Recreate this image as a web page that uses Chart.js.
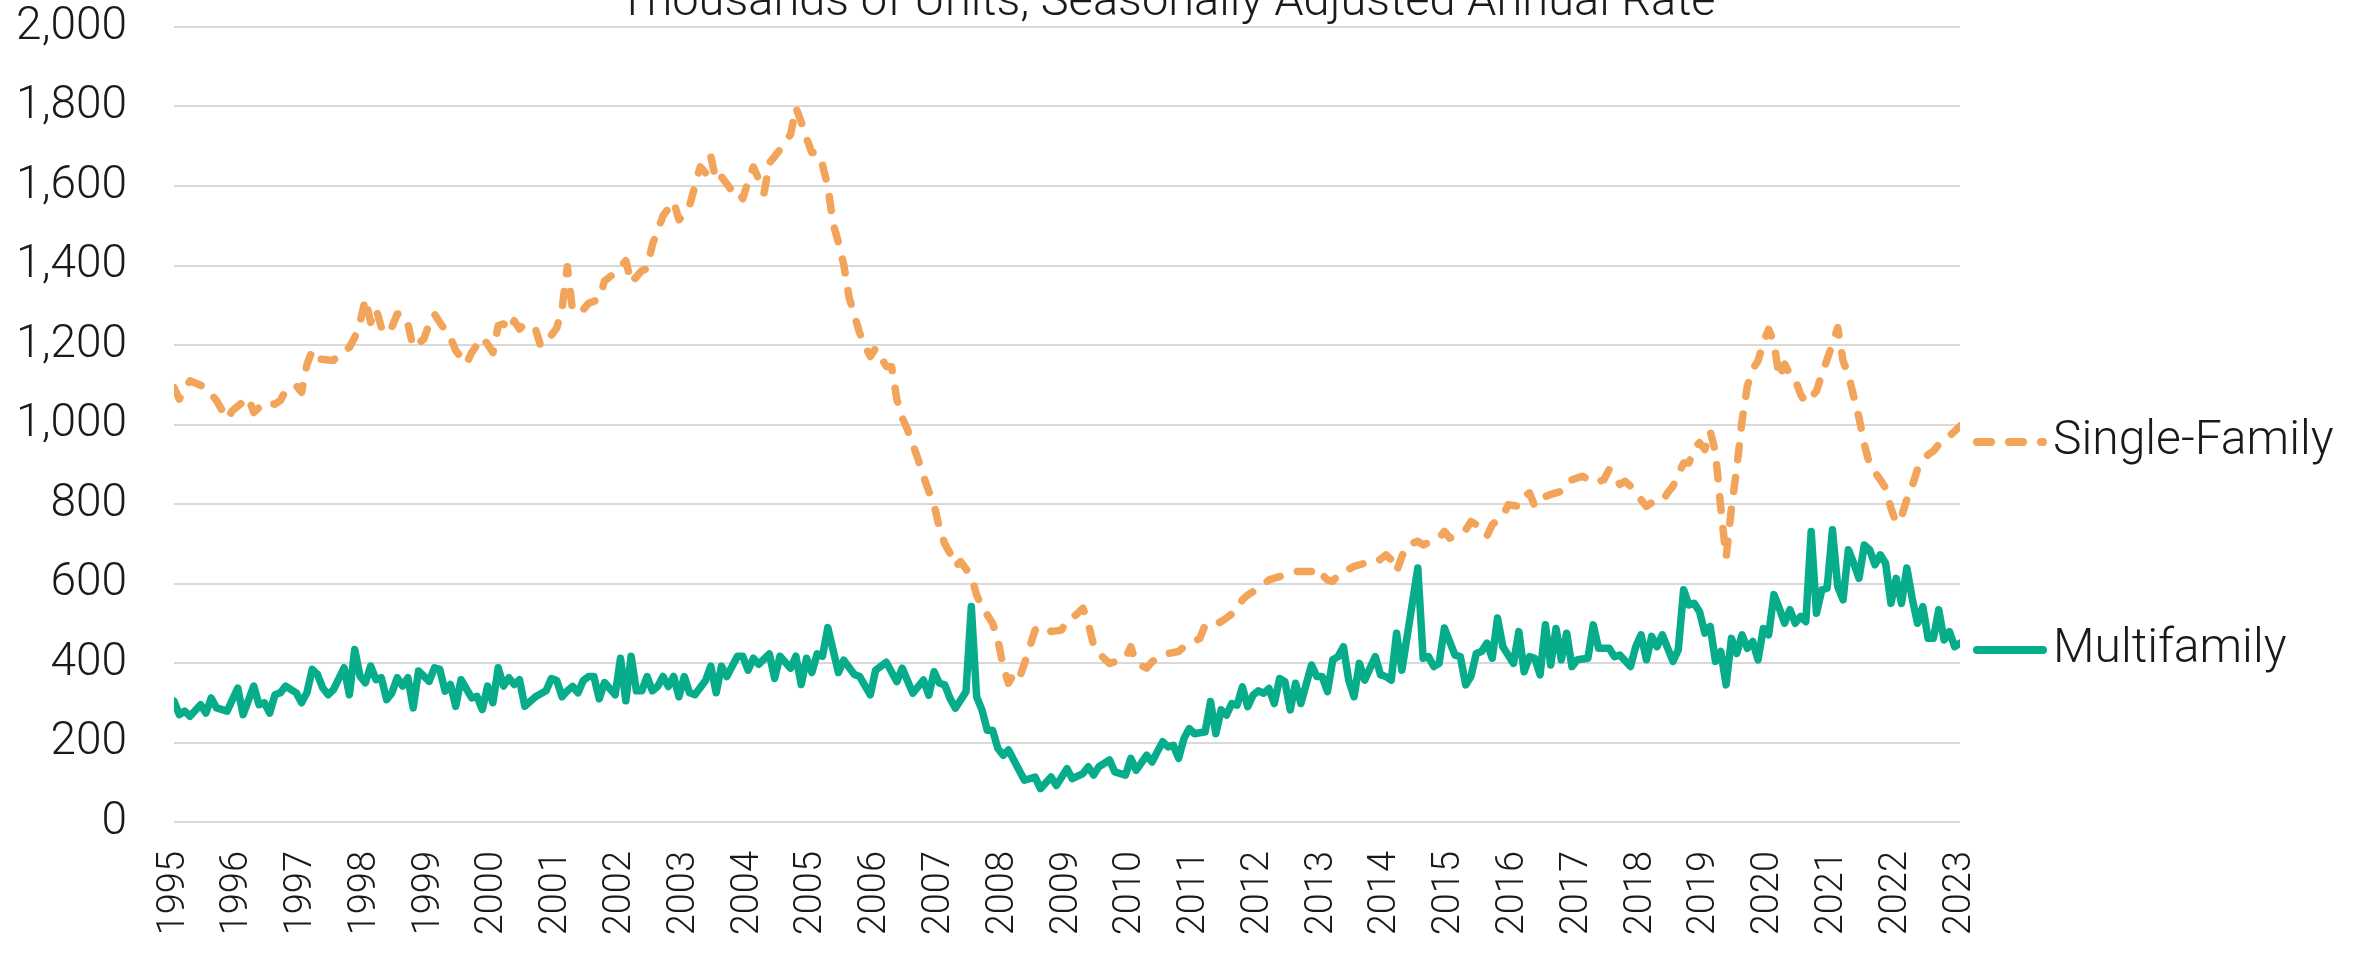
<!DOCTYPE html>
<html lang="en">
<head>
  <meta charset="UTF-8" />
  <title>Housing Starts</title>
  <script src="https://cdn.jsdelivr.net/npm/chart.js"></script>
  <style>
    html, body { margin: 0; padding: 0; background: #fff; }
    .wrap { width: 2361px; height: 961px; position: relative; }
  </style>
</head>
<body>
  <div class="wrap"><canvas id="chart"></canvas></div>

  <script>
    // axis ticks and labels
    const startYear = 1995;
    const yearTicks = [1995, 1996, 1997, 1998, 1999, 2000, 2001, 2002, 2003, 2004, 2005, 2006, 2007, 2008,
                       2009, 2010, 2011, 2012, 2013, 2014, 2015, 2016, 2017, 2018, 2019, 2020, 2021, 2022, 2023];
    const valueTicks = [0, 200, 400, 600, 800, 1000, 1200, 1400, 1600, 1800, 2000];
    const seriesNames = ["Single-Family", "Multifamily"];
    const titleText = "Thousands of Units, Seasonally Adjusted Annual Rate";

    // single-family: months since Jan 1995, thousands of units
    const sfMonths = [
      0, 1, 3, 6, 8, 10, 11, 14, 15, 17,
      19, 20, 21, 23, 24, 25, 26, 27, 30, 31,
      33, 34, 35, 36, 37, 38, 39, 40, 41, 42,
      43, 44, 45, 47, 48, 49, 50, 52, 53, 55,
      56, 58, 59, 60, 61, 62, 63, 64, 65, 66,
      68, 69, 70, 72, 73, 74, 75, 77, 78, 80,
      81, 83, 85, 86, 88, 89, 90, 91, 92, 94,
      95, 96, 97, 98, 99, 100, 101, 102, 103, 105,
      106, 107, 108, 109, 110, 111, 112, 113, 115, 116,
      117, 118, 119, 120, 121, 122, 123, 124, 125, 126,
      127, 129, 130, 131, 132, 134, 135, 136, 137, 138,
      140, 141, 142, 143, 144, 145, 146, 147, 148, 150,
      151, 152, 153, 154, 155, 156, 157, 158, 159, 160,
      161, 162, 164, 165, 167, 168, 169, 171, 172, 173,
      174, 176, 177, 179, 180, 181, 183, 184, 185, 187,
      189, 190, 193, 194, 196, 198, 200, 201, 202, 204,
      206, 209, 210, 211, 214, 215, 216, 217, 218, 219,
      222, 224, 226, 228, 229, 230, 231, 232, 234, 235,
      238, 239, 240, 243, 244, 245, 247, 248, 250, 251,
      253, 254, 255, 256, 258, 259, 261, 262, 263, 265,
      267, 269, 270, 271, 272, 273, 274, 276, 277, 278,
      280, 281, 282, 283, 284, 285, 286, 287, 288, 289,
      290, 291, 292, 293, 294, 295, 296, 297, 298, 299,
      300, 301, 302, 303, 304, 305, 306, 307, 308, 309,
      310, 312, 313, 314, 315, 316, 317, 318, 319, 321,
      322, 323, 324, 325, 326, 327, 328, 330, 331, 332,
      334, 335, 336
    ];
    const sfValues = [
      1093, 1064, 1110, 1093, 1060, 1014, 1035, 1068, 1030, 1055,
      1051, 1060, 1085, 1098, 1081, 1150, 1186, 1165, 1161, 1177,
      1194, 1219, 1257, 1316, 1257, 1291, 1245, 1228, 1245, 1278,
      1278, 1253, 1194, 1215, 1253, 1278, 1257, 1219, 1186, 1152,
      1181, 1219, 1202, 1181, 1249, 1253, 1236, 1261, 1240, 1253,
      1240, 1197, 1207, 1243, 1290, 1397, 1284, 1289, 1305, 1315,
      1361, 1382, 1412, 1356, 1387, 1392, 1453, 1489, 1525, 1561,
      1515, 1530, 1551, 1600, 1648, 1633, 1674, 1612, 1623, 1587,
      1592, 1568, 1612, 1648, 1617, 1582, 1658, 1674, 1710, 1730,
      1797, 1761, 1720, 1684, 1684, 1653, 1600, 1505, 1458, 1402,
      1320, 1230, 1197, 1171, 1192, 1146, 1145, 1063, 1017, 987,
      912, 870, 832, 798, 740, 700, 676, 643, 655, 618,
      571, 542, 521, 500, 458, 391, 349, 374, 361, 399,
      441, 483, 492, 479, 483, 508, 513, 538, 500, 445,
      424, 399, 403, 412, 441, 399, 387, 403, 412, 424,
      429, 441, 462, 496, 496, 513, 534, 559, 571, 588,
      609, 622, 626, 630, 630, 639, 622, 609, 605, 622,
      643, 651, 651, 672, 660, 630, 668, 697, 706, 697,
      714, 731, 714, 735, 756, 748, 719, 748, 769, 798,
      794, 819, 828, 794, 819, 824, 832, 853, 861, 870,
      853, 861, 887, 874, 849, 857, 845, 811, 794, 803,
      807, 828, 845, 874, 903, 903, 941, 954, 937, 983,
      930, 790, 665, 790, 890, 1010, 1097, 1139, 1160, 1206,
      1239, 1206, 1118, 1152, 1126, 1113, 1076, 1055, 1068, 1084,
      1126, 1202, 1244, 1160, 1126, 1071, 1017, 950, 899, 861,
      840, 790, 752, 769, 811, 845, 887, 924, 933, 950,
      971, 983, 996
    ];

    // multifamily
    const mfMonths = [
      0, 1, 2, 3, 5, 6, 7, 8, 10, 12,
      13, 15, 16, 17, 18, 19, 20, 21, 23, 24,
      25, 26, 27, 28, 29, 30, 32, 33, 34, 35,
      36, 37, 38, 39, 40, 41, 42, 43, 44, 45,
      46, 48, 49, 50, 51, 52, 53, 54, 56, 57,
      58, 59, 60, 61, 62, 63, 64, 65, 66, 68,
      70, 71, 72, 73, 74, 75, 76, 77, 78, 79,
      80, 81, 83, 84, 85, 86, 87, 88, 89, 90,
      91, 92, 93, 94, 95, 96, 97, 98, 100, 101,
      102, 103, 104, 106, 107, 108, 109, 110, 112, 113,
      114, 116, 117, 118, 119, 120, 121, 122, 123, 125,
      126, 128, 129, 131, 132, 134, 136, 137, 139, 141,
      142, 143, 144, 145, 146, 147, 148, 149, 150, 151,
      152, 153, 154, 155, 156, 157, 159, 160, 162, 163,
      165, 166, 168, 169, 171, 172, 173, 174, 176, 177,
      179, 180, 181, 183, 184, 185, 186, 187, 188, 189,
      190, 191, 192, 194, 195, 196, 197, 198, 199, 200,
      201, 202, 203, 204, 205, 206, 207, 208, 209, 210,
      211, 212, 214, 215, 216, 217, 218, 219, 220, 221,
      222, 223, 224, 226, 227, 228, 229, 230, 231, 234,
      235, 236, 237, 238, 239, 240, 241, 242, 243, 244,
      245, 246, 247, 248, 249, 250, 252, 253, 254, 255,
      256, 257, 258, 259, 260, 261, 262, 263, 264, 266,
      267, 268, 270, 271, 272, 274, 275, 276, 277, 278,
      279, 280, 282, 283, 284, 285, 286, 287, 288, 289,
      290, 291, 292, 293, 294, 295, 296, 297, 298, 299,
      300, 301, 302, 303, 304, 305, 306, 307, 308, 309,
      310, 311, 312, 313, 314, 315, 316, 317, 318, 319,
      320, 321, 322, 323, 324, 325, 326, 327, 328, 329,
      330, 331, 332, 333, 334, 335, 336
    ];
    const mfValues = [
      304, 270, 279, 266, 295, 274, 312, 287, 279, 337,
      270, 342, 295, 300, 274, 320, 325, 342, 325, 300,
      325, 384, 371, 337, 320, 333, 388, 320, 434, 367,
      350, 392, 358, 363, 308, 325, 363, 342, 363, 287,
      380, 354, 388, 384, 329, 346, 291, 358, 312, 316,
      283, 342, 300, 388, 342, 363, 346, 358, 291, 315,
      330, 361, 356, 315, 330, 341, 325, 356, 366, 366,
      310, 351, 320, 412, 305, 417, 330, 330, 366, 330,
      341, 366, 341, 366, 315, 366, 325, 320, 356, 392,
      325, 392, 366, 417, 417, 382, 412, 397, 423, 361,
      417, 387, 417, 346, 412, 376, 423, 417, 489, 376,
      407, 371, 366, 320, 382, 402, 353, 387, 324, 357,
      319, 378, 349, 345, 311, 286, 307, 328, 542, 315,
      282, 231, 231, 185, 168, 181, 130, 105, 113, 84,
      113, 92, 134, 109, 122, 139, 118, 139, 156, 126,
      118, 160, 130, 168, 151, 177, 202, 189, 193, 160,
      210, 235, 222, 227, 303, 222, 282, 269, 298, 294,
      340, 290, 319, 330, 324, 336, 298, 361, 353, 282,
      349, 298, 395, 366, 366, 328, 408, 416, 441, 357,
      315, 399, 357, 416, 370, 366, 357, 475, 382, 639,
      412, 416, 391, 399, 488, 454, 420, 416, 345, 366,
      424, 429, 450, 412, 513, 441, 399, 479, 378, 416,
      412, 370, 496, 395, 487, 408, 475, 391, 408, 412,
      496, 437, 437, 416, 420, 391, 441, 471, 408, 467,
      441, 471, 404, 433, 584, 546, 550, 529, 475, 492,
      404, 429, 345, 462, 424, 471, 437, 454, 408, 487,
      471, 572, 538, 500, 534, 500, 517, 504, 731, 525,
      584, 588, 735, 592, 559, 685, 651, 613, 697, 685,
      647, 672, 651, 550, 613, 550, 639, 563, 500, 542,
      462, 462, 534, 458, 479, 441, 450
    ];

    const sfColor = "#F3A45B";
    const mfColor = "#07AD8A";
    const sfDash = [14, 18];
    const labelColor = "#1a1a1a";

    function toPoints(months, values) {
      const n = Math.min(months.length, values.length);
      const pts = [];
      for (let i = 0; i < n; i++) {
        pts.push({ x: startYear + months[i] / 12, y: values[i] });
      }
      return pts;
    }

    // title (cut off at the top) and the end-of-line legend
    const overlayPlugin = {
      id: "overlay",
      afterDraw(chart) {
        const { ctx, chartArea } = chart;
        ctx.save();
        ctx.fillStyle = labelColor;
        ctx.font = "300 47px Roboto";
        ctx.textAlign = "center";
        ctx.textBaseline = "alphabetic";
        ctx.fillText(titleText, 1167, 15);

        const items = [
          { label: seriesNames[0], color: sfColor, dash: sfDash, y: 442 },
          { label: seriesNames[1], color: mfColor, dash: [], y: 650 }
        ];
        const x0 = chartArea.right + 17;
        const x1 = chartArea.right + 83;
        items.forEach(it => {
          ctx.beginPath();
          ctx.setLineDash(it.dash);
          ctx.lineCap = "round";
          ctx.lineWidth = 8;
          ctx.strokeStyle = it.color;
          ctx.moveTo(x0, it.y);
          ctx.lineTo(x1, it.y);
          ctx.stroke();
          ctx.setLineDash([]);
          ctx.fillStyle = labelColor;
          ctx.font = "300 48px Roboto";
          ctx.textAlign = "left";
          ctx.textBaseline = "middle";
          ctx.fillText(it.label, chartArea.right + 93, it.y);
        });
        ctx.restore();
      }
    };

    Chart.defaults.font.family = "Roboto";
    Chart.defaults.font.weight = "300";
    Chart.defaults.color = labelColor;

    new Chart(document.getElementById("chart"), {
      type: "line",
      data: {
        datasets: [
          {
            label: seriesNames[0],
            data: toPoints(sfMonths, sfValues),
            borderColor: sfColor,
            borderWidth: 7.5,
            borderDash: sfDash,
            borderCapStyle: "round",
            borderJoinStyle: "round",
            pointRadius: 0,
            tension: 0
          },
          {
            label: seriesNames[1],
            data: toPoints(mfMonths, mfValues),
            borderColor: mfColor,
            borderWidth: 7.5,
            borderCapStyle: "round",
            borderJoinStyle: "round",
            pointRadius: 0,
            tension: 0
          }
        ]
      },
      options: {
        responsive: true,
        maintainAspectRatio: false,
        animation: false,
        layout: { padding: { top: 27, right: 401, left: 0, bottom: 0 } },
        plugins: {
          legend: { display: false },
          tooltip: { enabled: false }
        },
        scales: {
          x: {
            type: "linear",
            min: yearTicks[0],
            max: yearTicks[yearTicks.length - 1],
            grid: { display: false },
            border: { display: false },
            afterBuildTicks: s => { s.ticks = yearTicks.map(v => ({ value: v })); },
            afterFit: s => { s.height = 139; s.paddingTop = 0; },
            ticks: {
              autoSkip: false,
              minRotation: 90,
              maxRotation: 90,
              padding: 21,
              font: { size: 38, weight: "300" },
              callback: v => String(v)
            }
          },
          y: {
            min: 0,
            max: 2000,
            afterBuildTicks: s => { s.ticks = valueTicks.map(v => ({ value: v })); },
            afterFit: s => { s.width = 174; s.paddingTop = 0; s.paddingBottom = 0; },
            grid: { color: "#d9d9d9", lineWidth: 2, drawTicks: false },
            border: { display: false },
            ticks: {
              padding: 47,
              font: { size: 46, weight: "300" },
              callback: v => v.toLocaleString("en-US")
            }
          }
        }
      },
      plugins: [overlayPlugin]
    });
  </script>
</body>
</html>
